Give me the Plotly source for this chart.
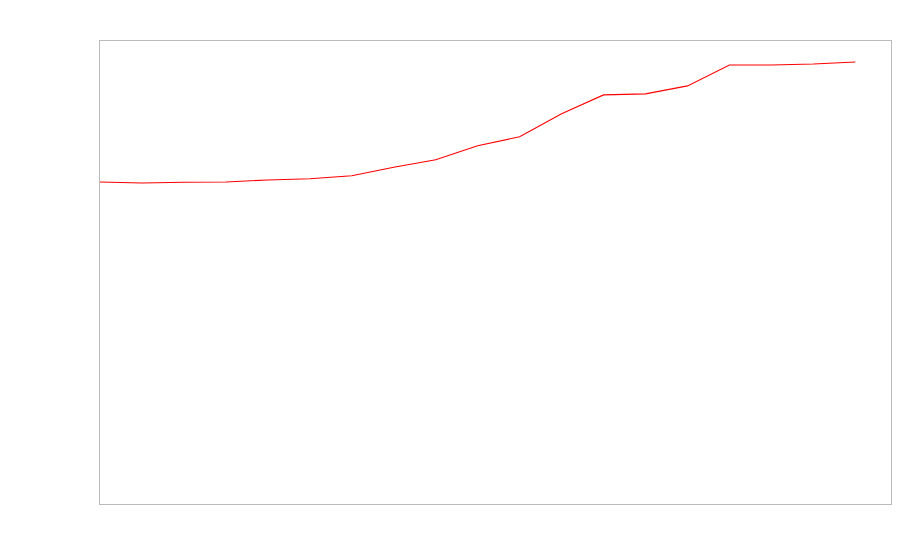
import plotly.graph_objects as go

x_index = list(range(19))
values = [69.55, 69.33, 69.5, 69.55, 69.98, 70.26, 70.91, 72.74, 74.35, 77.37,
          79.31, 84.27, 88.36, 88.58, 90.30, 94.83, 94.83, 95.04, 95.47]

fig = go.Figure()
fig.add_trace(go.Scatter(x=x_index, y=values, mode="lines",
                         line=dict(color="#ff0000", width=1.1), showlegend=False,
                         hoverinfo="skip"))

fig.update_layout(
    width=892, height=544,
    margin=dict(l=92, r=9, t=33, b=48),
    paper_bgcolor="white", plot_bgcolor="white",
)
fig.update_xaxes(range=[0, 18.85], showgrid=False, zeroline=False, showticklabels=False,
                 ticks="", showline=True, mirror=True, linecolor="#bbbbbb", linewidth=1)
fig.update_yaxes(range=[0, 100], showgrid=False, zeroline=False, showticklabels=False,
                 ticks="", showline=True, mirror=True, linecolor="#bbbbbb", linewidth=1)

fig.write_html("out.html")
